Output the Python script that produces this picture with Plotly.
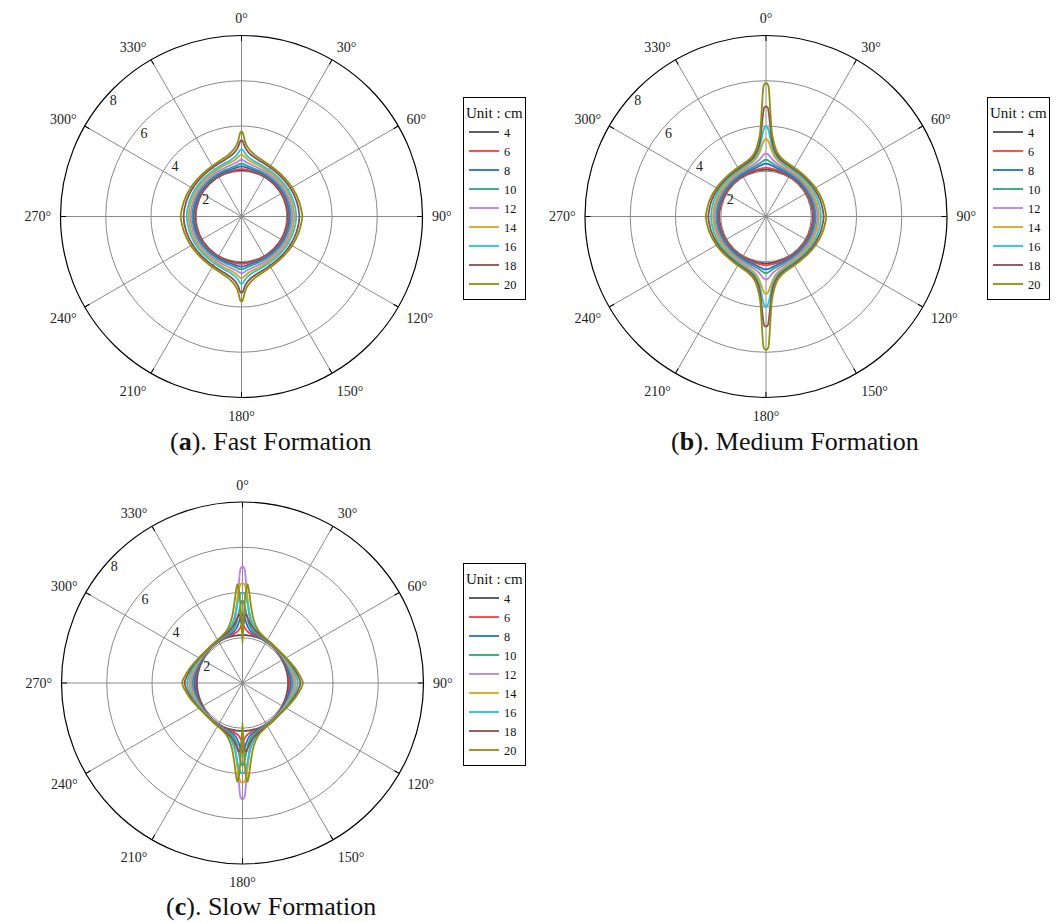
import plotly.graph_objects as go

# ---------------- data ----------------
# polar angle samples (degrees, 0 = top, clockwise) for one quadrant; curves are symmetric
THETA_DEG = [0, 1, 2, 3, 4, 6, 9, 13, 18, 25, 35, 45, 60, 75, 90]
SPACING_LABELS = ["4", "6", "8", "10", "12", "14", "16", "18", "20"]
ANGLE_TICKS = [0, 30, 60, 90, 120, 150, 180, 210, 240, 270, 300, 330]
RADIAL_TICKS = [2, 4, 6, 8]
COLORS = ["#4d4d4d", "#ff3b3b", "#1f6fe0", "#2aa876", "#b47ff0",
          "#d9a21b", "#1ec8d8", "#8b4f4f", "#8f8f0f"]

# (a) Fast formation
fast_r04 = [2.05, 2.05, 2.05, 2.05, 2.05, 2.05, 2.04, 2.04, 2.04, 2.04, 2.03, 2.03, 2.04, 2.04, 2.05]
fast_r06 = [2.09, 2.09, 2.09, 2.09, 2.09, 2.08, 2.08, 2.07, 2.07, 2.06, 2.06, 2.06, 2.06, 2.07, 2.08]
fast_r08 = [2.21, 2.21, 2.21, 2.20, 2.19, 2.17, 2.15, 2.13, 2.12, 2.11, 2.10, 2.10, 2.11, 2.12, 2.13]
fast_r10 = [2.33, 2.33, 2.32, 2.31, 2.29, 2.26, 2.23, 2.20, 2.18, 2.16, 2.15, 2.15, 2.16, 2.17, 2.18]
fast_r12 = [2.50, 2.50, 2.48, 2.46, 2.43, 2.39, 2.35, 2.31, 2.28, 2.25, 2.23, 2.22, 2.23, 2.24, 2.25]
fast_r14 = [2.73, 2.72, 2.68, 2.64, 2.60, 2.53, 2.47, 2.42, 2.38, 2.34, 2.31, 2.30, 2.31, 2.32, 2.33]
fast_r16 = [2.97, 2.95, 2.88, 2.81, 2.75, 2.66, 2.58, 2.51, 2.46, 2.41, 2.38, 2.37, 2.38, 2.40, 2.42]
fast_r18 = [3.38, 3.33, 3.18, 3.06, 2.98, 2.86, 2.75, 2.66, 2.59, 2.53, 2.49, 2.48, 2.50, 2.53, 2.56]
fast_r20 = [3.76, 3.68, 3.45, 3.28, 3.16, 3.02, 2.88, 2.76, 2.68, 2.61, 2.56, 2.55, 2.58, 2.63, 2.69]

# (b) Medium formation
medium_r04 = [2.07, 2.07, 2.07, 2.07, 2.07, 2.06, 2.06, 2.06, 2.05, 2.05, 2.05, 2.05, 2.05, 2.06, 2.07]
medium_r06 = [2.15, 2.15, 2.15, 2.14, 2.14, 2.13, 2.12, 2.11, 2.10, 2.09, 2.08, 2.08, 2.08, 2.09, 2.10]
medium_r08 = [2.34, 2.34, 2.33, 2.32, 2.30, 2.27, 2.23, 2.19, 2.16, 2.14, 2.12, 2.12, 2.13, 2.14, 2.15]
medium_r10 = [2.50, 2.50, 2.48, 2.46, 2.43, 2.38, 2.32, 2.27, 2.23, 2.19, 2.17, 2.16, 2.17, 2.19, 2.20]
medium_r12 = [2.78, 2.77, 2.74, 2.70, 2.65, 2.55, 2.45, 2.37, 2.31, 2.26, 2.23, 2.22, 2.24, 2.26, 2.27]
medium_r14 = [3.42, 3.40, 3.30, 3.17, 3.04, 2.83, 2.63, 2.49, 2.40, 2.33, 2.29, 2.28, 2.30, 2.32, 2.34]
medium_r16 = [3.98, 3.93, 3.75, 3.50, 3.28, 2.98, 2.74, 2.57, 2.47, 2.40, 2.36, 2.35, 2.38, 2.41, 2.43]
medium_r18 = [4.87, 4.80, 4.35, 3.85, 3.50, 3.10, 2.83, 2.64, 2.53, 2.46, 2.42, 2.42, 2.46, 2.51, 2.55]
medium_r20 = [5.90, 5.80, 4.95, 4.20, 3.72, 3.30, 2.95, 2.73, 2.60, 2.52, 2.48, 2.48, 2.53, 2.60, 2.66]

# (c) Slow formation
slow_r04 = [2.12, 2.12, 2.12, 2.12, 2.12, 2.12, 2.12, 2.12, 2.12, 2.11, 2.09, 2.07, 2.04, 2.03, 2.03]
slow_r06 = [2.55, 2.53, 2.47, 2.40, 2.35, 2.28, 2.22, 2.18, 2.15, 2.12, 2.10, 2.08, 2.07, 2.07, 2.08]
slow_r08 = [3.05, 3.00, 2.87, 2.73, 2.62, 2.45, 2.32, 2.24, 2.18, 2.14, 2.11, 2.09, 2.09, 2.11, 2.14]
slow_r10 = [3.65, 3.55, 3.32, 3.10, 2.92, 2.65, 2.44, 2.31, 2.22, 2.16, 2.12, 2.10, 2.11, 2.15, 2.21]
slow_r12 = [5.15, 5.05, 4.45, 3.85, 3.42, 2.95, 2.62, 2.41, 2.28, 2.19, 2.13, 2.11, 2.13, 2.19, 2.28]
slow_r14 = [4.40, 4.38, 4.20, 3.90, 3.55, 3.05, 2.70, 2.46, 2.31, 2.21, 2.14, 2.12, 2.15, 2.24, 2.36]
slow_r16 = [3.97, 3.95, 3.85, 3.65, 3.45, 3.05, 2.72, 2.49, 2.33, 2.22, 2.15, 2.13, 2.18, 2.30, 2.45]
slow_r18 = [2.35, 2.60, 2.95, 3.05, 2.95, 2.76, 2.56, 2.41, 2.30, 2.22, 2.16, 2.14, 2.21, 2.37, 2.56]
slow_r20 = [1.76, 2.80, 4.00, 4.38, 4.10, 3.50, 2.95, 2.60, 2.38, 2.25, 2.17, 2.15, 2.23, 2.43, 2.67]

FAST = [fast_r04, fast_r06, fast_r08, fast_r10, fast_r12, fast_r14, fast_r16, fast_r18, fast_r20]
MEDIUM = [medium_r04, medium_r06, medium_r08, medium_r10, medium_r12, medium_r14, medium_r16, medium_r18, medium_r20]
SLOW = [slow_r04, slow_r06, slow_r08, slow_r10, slow_r12, slow_r14, slow_r16, slow_r18, slow_r20]

CAPTIONS = ["(<b>a</b>). Fast Formation", "(<b>b</b>). Medium Formation", "(<b>c</b>). Slow Formation"]

# ---------------- helpers ----------------
def mirror(rq):
    """Build full 0..360 curve from the first-quadrant samples using symmetry."""
    th = list(THETA_DEG)
    r = list(rq)
    th += [180 - t for t in reversed(THETA_DEG[:-1])]
    r += list(reversed(rq[:-1]))
    th += [180 + t for t in THETA_DEG[1:]]
    r += list(rq[1:])
    th += [360 - t for t in reversed(THETA_DEG[:-1])]
    r += list(reversed(rq[:-1]))
    return th, r

W, H = 1059, 923
FONT = "Liberation Serif"
R_PX = 181.0
LABEL_INSET = 0.4      # radial labels sit slightly inside their grid circle (MATLAB style)
GRID = "#8a8a8a"

# grid subplots: polar, polar2, polar3 ; data subplots on top: polar4, polar5, polar6
centers = [(241.5, 216.5), (766.0, 216.5), (242.5, 683.0)]
panels = [
    dict(data=FAST, grid="polar", polar="polar4", legend="legend"),
    dict(data=MEDIUM, grid="polar2", polar="polar5", legend="legend2"),
    dict(data=SLOW, grid="polar3", polar="polar6", legend="legend3"),
]

fig = go.Figure()
for p in panels:
    # an invisible anchor trace so the grid subplot gets drawn
    fig.add_trace(go.Scatterpolar(
        r=[0], theta=[0], mode="markers", subplot=p["grid"],
        marker=dict(opacity=0, size=1), showlegend=False, hoverinfo="skip",
    ))
for p in panels:
    for i, rq in enumerate(p["data"]):
        th, r = mirror(rq)
        fig.add_trace(go.Scatterpolar(
            r=r, theta=th, mode="lines", subplot=p["polar"], legend=p["legend"],
            name=SPACING_LABELS[i],
            line=dict(color=COLORS[i], width=1.8, shape="spline", smoothing=0.6),
        ))

def domain(cx, cy):
    return dict(x=[(cx - R_PX) / W, (cx + R_PX) / W],
                y=[1 - (cy + R_PX) / H, 1 - (cy - R_PX) / H])

def grid_polar(cx, cy):
    return dict(
        domain=domain(cx, cy),
        bgcolor="white",
        angularaxis=dict(
            rotation=90, direction="clockwise",
            tickmode="array", tickvals=ANGLE_TICKS,
            ticktext=[f"{a}°" for a in ANGLE_TICKS],
            showgrid=True, gridcolor=GRID, gridwidth=1,
            showline=True, linecolor="black", linewidth=1.2,
            ticks="outside", ticklen=6, tickcolor="rgba(0,0,0,0)",
            tickfont=dict(family=FONT, size=14, color="#222"),
        ),
        radialaxis=dict(
            range=[0, 8], tickmode="array", tickvals=RADIAL_TICKS,
            showticklabels=False, showgrid=True, gridcolor=GRID, gridwidth=1,
            showline=False, ticks="",
        ),
    )

def data_polar(cx, cy):
    return dict(
        domain=domain(cx, cy),
        bgcolor="rgba(0,0,0,0)",
        angularaxis=dict(
            rotation=90, direction="clockwise",
            tickmode="array", tickvals=ANGLE_TICKS,
            showgrid=False, showline=False, showticklabels=False,
            ticks="inside", ticklen=5, tickwidth=1.2, tickcolor="black",
        ),
        radialaxis=dict(
            range=[0, 8], tickmode="array",
            tickvals=[v - LABEL_INSET for v in RADIAL_TICKS],
            ticktext=[str(v) for v in RADIAL_TICKS],
            showgrid=False, showline=False, ticks="",
            angle=133, tickangle=133, side="counterclockwise",
            tickfont=dict(family=FONT, size=14, color="#222"),
        ),
    )

def legend_layout(x_px, y_px):
    return dict(
        x=x_px / W, y=1 - y_px / H, xanchor="left", yanchor="top",
        bgcolor="white", bordercolor="black", borderwidth=1,
        font=dict(family=FONT, size=12.3, color="#111"),
        title=dict(text="Unit : cm", font=dict(family=FONT, size=15, color="#111")),
        tracegroupgap=0, itemwidth=30,
    )

annotations = []
for cap, (cx, cy) in zip(CAPTIONS, [(271, 441), (795, 441), (271, 906)]):
    annotations.append(dict(text=cap, x=cx / W, y=1 - cy / H, xref="paper", yref="paper",
                            showarrow=False, xanchor="center", yanchor="middle",
                            font=dict(family=FONT, size=26, color="#111")))

fig.update_layout(
    width=W, height=H, margin=dict(l=0, r=0, t=0, b=0),
    paper_bgcolor="white", plot_bgcolor="white",
    showlegend=True,
    polar=grid_polar(*centers[0]),
    polar2=grid_polar(*centers[1]),
    polar3=grid_polar(*centers[2]),
    polar4=data_polar(*centers[0]),
    polar5=data_polar(*centers[1]),
    polar6=data_polar(*centers[2]),
    legend=legend_layout(463, 97),
    legend2=legend_layout(987, 97),
    legend3=legend_layout(463, 563),
    annotations=annotations,
)

fig.write_html("out.html")
